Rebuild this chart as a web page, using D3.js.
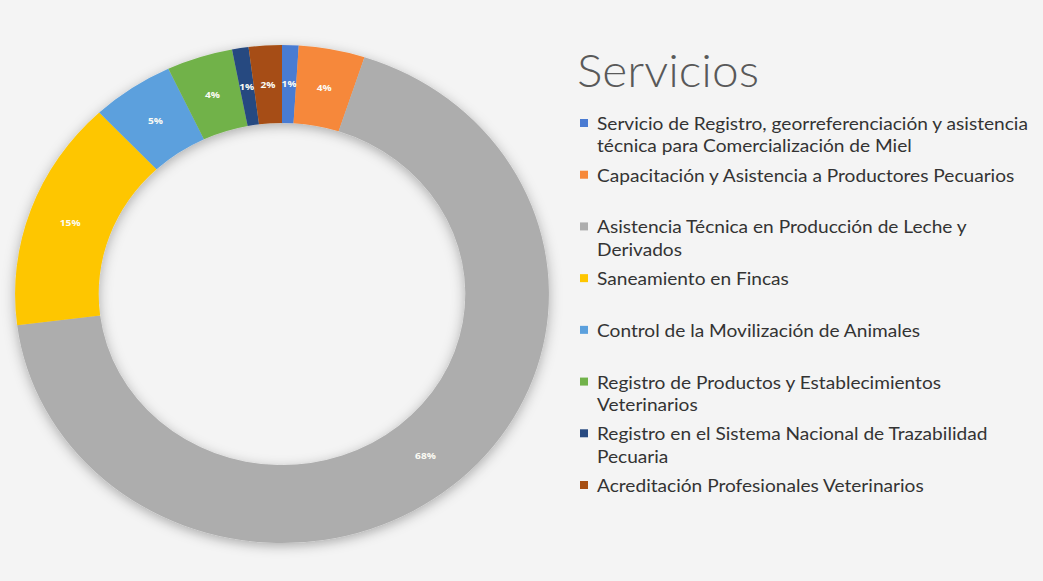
<!DOCTYPE html>
<html>
<head>
<meta charset="utf-8">
<script src="https://cdn.jsdelivr.net/npm/d3@7"></script>
<style>
  html, body { margin: 0; padding: 0; background: #f4f4f4; }
  svg { display: block; }
</style>
</head>
<body>
<svg id="chart" width="1043" height="581"></svg>
<script>
// ---- data ----
const categories = [
  "Servicio de Registro, georreferenciación y asistencia\ntécnica para Comercialización de Miel",
  "Capacitación y Asistencia a Productores Pecuarios",
  "Asistencia Técnica en Producción de Leche y\nDerivados",
  "Saneamiento en Fincas",
  "Control de la Movilización de Animales",
  "Registro de Productos y Establecimientos\nVeterinarios",
  "Registro en el Sistema Nacional de Trazabilidad\nPecuaria",
  "Acreditación Profesionales Veterinarios"
];
const values = [1, 4, 68, 15, 5, 4, 1, 2];
const colors = ["#4a7bd2", "#f6883a", "#adadad", "#fec600", "#5ba0dd", "#71b24a", "#284a80", "#a64e12"];
const title = "Servicios";

// ---- layout ----
const W = 1043, H = 581;
const cx = 282, cy = 294;
const rOuter = 249, rInner = 171, stretchX = 1.072;

const svg = d3.select("#chart");
svg.append("rect").attr("width", W).attr("height", H).attr("fill", "#f4f4f4");

const defs = svg.append("defs");
const f = defs.append("filter").attr("id", "shadow")
  .attr("x", "-20%").attr("y", "-20%").attr("width", "140%").attr("height", "140%");
f.append("feDropShadow").attr("dx", 0).attr("dy", 3).attr("stdDeviation", 6)
  .attr("flood-color", "#000").attr("flood-opacity", 0.3);

const pie = d3.pie().sort(null).value(d => d)(values);
const arc = d3.arc().innerRadius(rInner).outerRadius(rOuter);
const color = d3.scaleOrdinal().domain(d3.range(values.length)).range(colors);

const g = svg.append("g")
  .attr("transform", `translate(${cx},${cy}) scale(${stretchX},1)`);

g.append("g").attr("filter", "url(#shadow)")
  .selectAll("path").data(pie).join("path")
  .attr("d", arc)
  .attr("fill", (d, i) => color(i));

const fmt = d3.format(".0%");
const total = d3.sum(values);
g.selectAll("text.lbl").data(pie).join("text")
  .attr("class", "lbl")
  .attr("transform", d => `translate(${arc.centroid(d)})`)
  .attr("text-anchor", "middle")
  .attr("dy", "0.35em")
  .attr("font-family", "'Open Sans', sans-serif")
  .attr("font-weight", 700)
  .attr("font-size", 9.5)
  .attr("fill", "#fbfbf4")
  .text(d => fmt(d.data / total));

// ---- legend ----
const titleText = svg.append("text")
  .attr("x", 0).attr("y", 0)
  .attr("font-family", "Lato, sans-serif")
  .attr("font-weight", 300)
  .attr("font-size", 46)
  .attr("fill", "#595959")
  .text(title);
const tw = titleText.node().getComputedTextLength();
titleText.attr("transform", `translate(577,87) scale(${182 / tw},1)`);

const legendTop = 124, step = (486 - 124) / 7, lineH = 22.5;
const leg = svg.append("g");
const legFont = "Lato, sans-serif", legSize = 17;
const probe = leg.append("text").attr("font-family", legFont)
  .attr("font-size", legSize).text(categories[0].split("\n")[0]);
const pw = probe.node().getComputedTextLength();
probe.remove();
const fx = 431 / pw;

categories.forEach((c, i) => {
  const y = legendTop + i * step;
  leg.append("rect")
    .attr("x", 580).attr("y", y - 5).attr("width", 8).attr("height", 8)
    .attr("fill", color(i));
  const tg = leg.append("g").attr("transform", `translate(597,${y}) scale(${fx},1)`);
  c.split("\n").forEach((line, j) => {
    tg.append("text")
      .attr("x", 0).attr("y", j * lineH)
      .attr("dy", "0.35em")
      .attr("font-family", legFont)
      .attr("font-size", legSize)
      .attr("fill", "#333333")
      .text(line);
  });
});
</script>
</body>
</html>
